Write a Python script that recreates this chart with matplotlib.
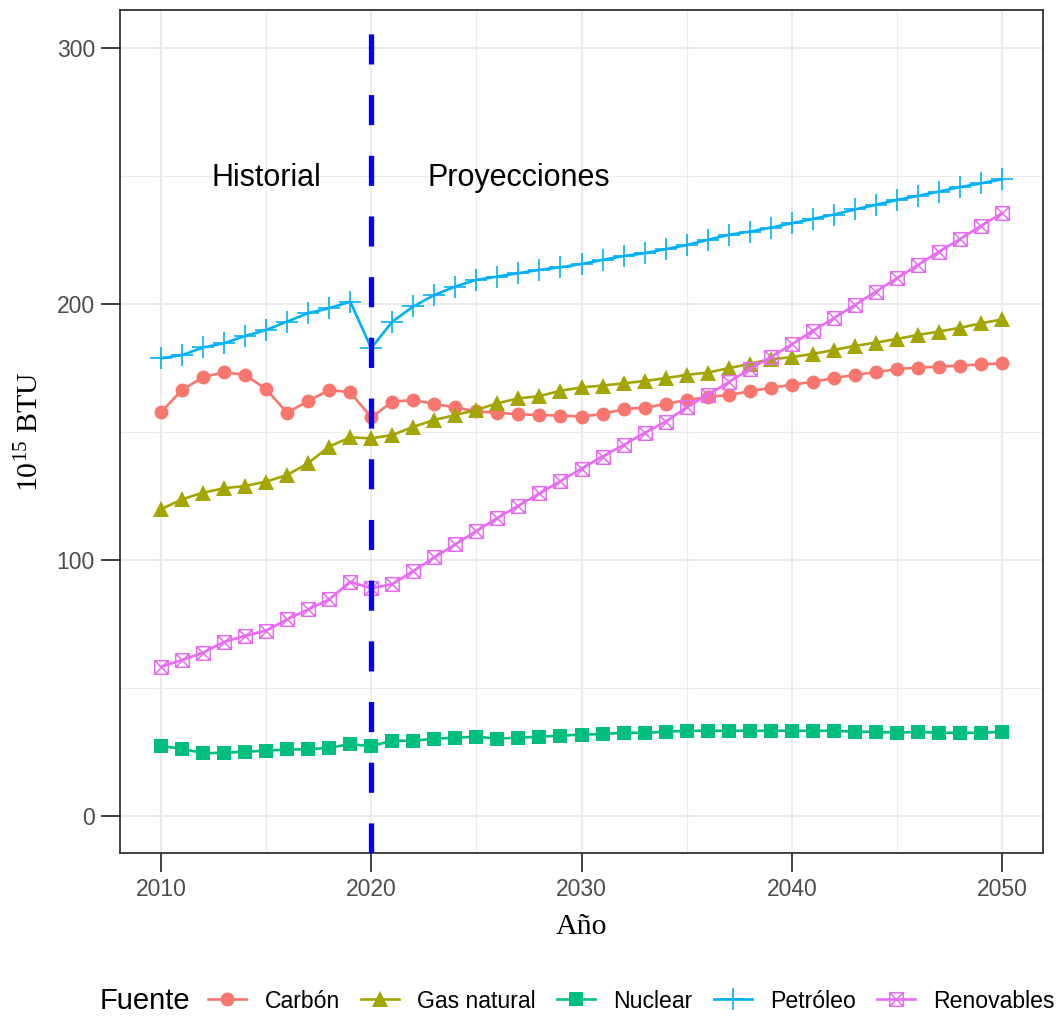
import matplotlib
matplotlib.use("Agg")
import matplotlib.pyplot as plt
import numpy as np
from matplotlib.path import Path

plt.rcParams['font.family'] = ['Liberation Sans', 'DejaVu Sans']
plt.rcParams['mathtext.fontset'] = 'custom'
plt.rcParams['mathtext.rm'] = 'Liberation Serif'
plt.rcParams['mathtext.it'] = 'Liberation Serif:italic'

years = list(range(2010, 2051))

carbon = [157.7, 166.4, 171.4, 173.3, 172.3, 166.7, 157.5, 162.1, 166.4, 165.5,
          155.7, 161.8, 162.5, 160.9, 159.6, 158.0, 157.5, 156.9, 156.6, 156.4,
          156.0, 157.0, 158.9, 159.5, 160.9, 162.5, 163.6, 164.5, 165.8, 167.3,
          168.4, 169.6, 171.0, 172.3, 173.3, 174.6, 175.1, 175.5, 175.9, 176.4,
          176.8]
gas = [119.8, 123.7, 126.3, 128.0, 128.9, 130.6, 133.2, 137.8, 144.3, 147.9,
       147.5, 148.8, 152.0, 154.7, 156.6, 158.6, 161.2, 163.1, 164.0, 166.1,
       167.4, 168.1, 169.0, 169.9, 171.0, 172.3, 173.2, 174.9, 176.6, 178.4,
       179.2, 180.5, 182.0, 183.6, 184.9, 186.3, 187.9, 189.2, 190.7, 192.4,
       194.0]
nuclear = [27.3, 26.3, 24.5, 24.7, 25.1, 25.5, 26.0, 26.0, 26.7, 28.0,
           27.3, 29.4, 29.4, 30.2, 30.6, 31.0, 30.2, 30.6, 31.0, 31.4,
           31.8, 32.0, 32.5, 32.5, 32.9, 33.3, 33.3, 33.3, 33.3, 33.3,
           33.3, 33.3, 33.3, 32.9, 32.9, 32.5, 32.9, 32.5, 32.5, 32.5,
           32.9]
petroleum = [178.8, 180.0, 183.0, 184.6, 187.5, 189.8, 193.1, 196.4, 198.3, 200.9,
             182.7, 193.1, 199.0, 203.5, 206.8, 209.4, 210.7, 212.0, 213.3, 214.3,
             215.6, 217.2, 218.7, 219.8, 221.4, 223.0, 225.0, 227.0, 228.2, 229.8,
             231.5, 233.2, 234.9, 236.9, 238.7, 240.6, 242.2, 243.9, 245.6, 247.1,
             248.7]
renewables = [58.3, 60.9, 63.8, 68.0, 70.4, 72.4, 76.8, 80.7, 84.6, 91.5,
              88.9, 90.6, 95.7, 101.0, 106.1, 111.3, 116.4, 121.2, 126.0, 130.8,
              135.7, 140.4, 144.9, 149.7, 154.0, 159.6, 164.5, 169.4, 174.6, 179.2,
              184.2, 189.5, 194.4, 199.6, 204.8, 210.0, 215.2, 220.4, 225.3, 230.5,
              235.4]

labels = ["Carbón", "Gas natural", "Nuclear", "Petróleo", "Renovables"]
colors = ["#F8766D", "#A3A500", "#00BF7D", "#00B0F6", "#E76BF3"]

# open square with both diagonals (ggplot shape 7)
sq_cross = Path(
    [(-1, -1), (1, -1), (1, 1), (-1, 1), (-1, -1), (-1, -1), (1, 1), (-1, 1), (1, -1)],
    [Path.MOVETO, Path.LINETO, Path.LINETO, Path.LINETO, Path.CLOSEPOLY,
     Path.MOVETO, Path.LINETO, Path.MOVETO, Path.LINETO])

styles = [
    dict(marker='o', ms=10, mew=0),
    dict(marker='^', ms=11.5, mew=0),
    dict(marker='s', ms=9.8, mew=0),
    dict(marker='+', ms=16, mew=1.2),
    dict(marker=sq_cross, ms=9.8, mew=1.1, mfc='none'),
]

fig = plt.figure(figsize=(10.62, 10.17), dpi=100)
ax = fig.add_axes([120 / 1062, 1 - 853 / 1017, 923 / 1062, 843 / 1017])

series = [carbon, gas, nuclear, petroleum, renewables]
handles = []
for vals, lab, col, st in zip(series, labels, colors, styles):
    h, = ax.plot(years, vals, color=col, lw=1.9, label=lab, zorder=3, **st)
    handles.append(h)

vl = ax.axvline(2020, color='blue', lw=3.8, zorder=5)
vl.set_dashes((5.7, 5.8))

ax.text(2015, 249, "Historial", fontsize=22, ha='center', va='center', zorder=6)
ax.text(2027, 249, "Proyecciones", fontsize=22, ha='center', va='center', zorder=6)

ax.set_xlim(2008.05, 2051.95)
ax.set_ylim(-14.45, 314.8)
ax.set_xticks([2010, 2020, 2030, 2040, 2050])
ax.set_yticks([0, 100, 200, 300])
ax.set_xticks([2015, 2025, 2035, 2045], minor=True)
ax.set_yticks([50, 150, 250], minor=True)

ax.grid(True, which='major', color='#EBEBEB', lw=1.5, zorder=0)
ax.grid(True, which='minor', color='#EBEBEB', lw=0.8, zorder=0)
ax.set_axisbelow(True)
ax.tick_params(which='major', length=14, width=1.3, color='#333333',
               labelsize=16.5, labelcolor='#4D4D4D', pad=4)
ax.tick_params(which='minor', length=0)
for sp in ax.spines.values():
    sp.set_color('#333333')
    sp.set_linewidth(1.3)

ax.set_xlabel("Año", family='Liberation Serif', fontsize=21.5, labelpad=9)
ax.set_ylabel(r"$10^{15}$ BTU", family='Liberation Serif', fontsize=21.5, labelpad=9)

fig.text(100 / 1062, 1 - 1001 / 1017, "Fuente", fontsize=21, ha='left', va='center')
fig.legend(handles=handles, loc='center left', bbox_to_anchor=(208 / 1062, 1 - 1001 / 1017),
           ncol=5, frameon=False, fontsize=16.6, handlelength=1.66, handletextpad=0.8,
           columnspacing=0.9, borderpad=0, borderaxespad=0)

fig.savefig("out.png", dpi=100)
